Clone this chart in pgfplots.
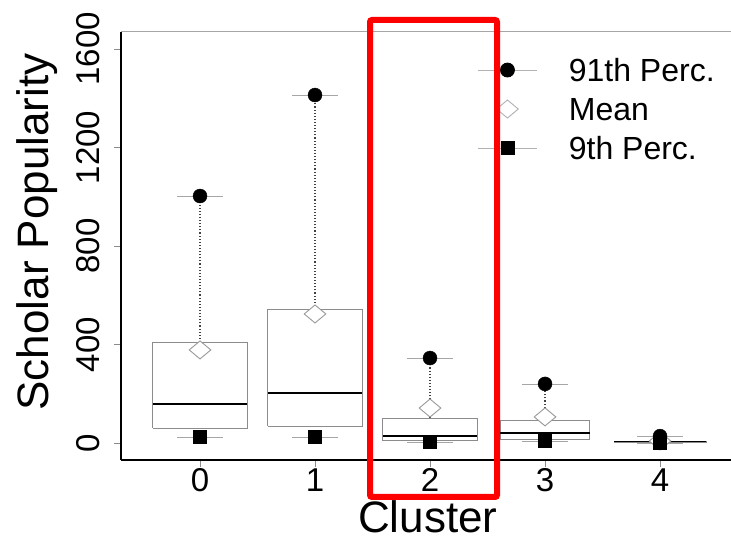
\documentclass[border=0pt]{standalone}
\usepackage{fontspec}
\setmainfont{Liberation Sans}
\usepackage{pgfplots}
\pgfplotsset{compat=1.18}
\pgfplotsset{
  boxst/.style={draw=black!45,line width=0.9pt,fill=white,forget plot},
  medst/.style={black,line width=1.8pt,forget plot},
  whst/.style={black!75,dotted,line width=1.1pt,forget plot},
  capst/.style={black!35,line width=0.8pt,forget plot},
}
\begin{document}
\begin{tikzpicture}
\path[use as bounding box,fill=white] (0pt,0pt) rectangle (731pt,541pt);
\begin{axis}[
  at={(121pt,81pt)}, anchor=south west,
  scale only axis, width=610pt, height=428pt,
  xmin=-0.687, xmax=4.617, ymin=-69, ymax=1669,
  axis x line*=bottom, axis y line*=left,
  axis line style={black,line width=1.2pt,-},
  xtick={0,1,2,3,4}, xticklabels={0,1,2,3,4},
  ytick={0,400,800,1200,1600}, yticklabels={0,400,800,1200,1600},
  tick align=outside, major tick length=7pt,
  tick style={black!45,line width=0.8pt},
  ticklabel style={font=\fontsize{33}{38}\selectfont},
  xticklabel style={anchor=base,yshift=-24pt},
  yticklabel style={xshift=-14pt,rotate=90,anchor=base},
  xlabel={Cluster}, ylabel={Scholar Popularity},
  label style={font=\fontsize{44}{52}\selectfont},
  xlabel style={at={(axis description cs:0.503,-0.133)},anchor=center},
  ylabel style={at={(axis description cs:-0.137,0.533)},anchor=center},
  clip=false,
  legend style={draw=none,fill=none,at={(axis description cs:0.585,0.82)},anchor=west,
    inner sep=0pt,font=\fontsize{32}{38}\selectfont,
    nodes={inner sep=0pt,text height=23pt,text depth=0pt},
    column sep=31pt,row sep=16pt},
  legend cell align=left,
  legend image code/.code={\draw[mark repeat=2,mark phase=2,#1] plot coordinates {(0pt,0pt) (29pt,0pt) (59pt,0pt)};},
]
% top frame line
\draw[black!35,line width=1pt] (rel axis cs:0,1) -- (rel axis cs:1,1);

% whiskers (box top to 91th percentile)
\addplot[whst] coordinates {(0,410) (0,1003)};
\addplot[whst] coordinates {(1,544) (1,1413)};
\addplot[whst] coordinates {(2,101) (2,345)};
\addplot[whst] coordinates {(3,93) (3,240)};
\addplot[whst] coordinates {(4,8) (4,28)};

% boxes (lower quartile, upper quartile)
\addplot[boxst] coordinates {(-0.41,61) (0.41,61) (0.41,410) (-0.41,410) (-0.41,61)};
\addplot[boxst] coordinates {(0.59,69) (1.41,69) (1.41,544) (0.59,544) (0.59,69)};
\addplot[boxst] coordinates {(1.59,10) (2.41,10) (2.41,101) (1.59,101) (1.59,10)};
\addplot[boxst] coordinates {(2.61,16) (3.39,16) (3.39,93) (2.61,93) (2.61,16)};
\addplot[boxst] coordinates {(3.6,4) (4.4,4) (4.4,8) (3.6,8) (3.6,4)};

% medians
\addplot[medst] coordinates {(-0.41,158) (0.41,158)};
\addplot[medst] coordinates {(0.59,203) (1.41,203)};
\addplot[medst] coordinates {(1.59,28) (2.41,28)};
\addplot[medst] coordinates {(2.61,41) (3.39,41)};
\addplot[medst] coordinates {(3.6,6) (4.4,6)};

% short caps through the percentile points
\addplot[capst] coordinates {(-0.2,1003) (0.2,1003)};
\addplot[capst] coordinates {(0.8,1413) (1.2,1413)};
\addplot[capst] coordinates {(1.8,345) (2.2,345)};
\addplot[capst] coordinates {(2.8,240) (3.2,240)};
\addplot[capst] coordinates {(3.8,28) (4.2,28)};
\addplot[capst] coordinates {(-0.2,24) (0.2,24)};
\addplot[capst] coordinates {(0.8,24) (1.2,24)};
\addplot[capst] coordinates {(1.8,4) (2.2,4)};
\addplot[capst] coordinates {(2.8,8) (3.2,8)};
\addplot[capst] coordinates {(3.8,0) (4.2,0)};

% mean
\addplot[forget plot,only marks,mark=diamond*,mark size=9pt,mark options={draw=black!40,fill=white,line width=0.9pt,xscale=1.6}] coordinates {(0,378) (1,524) (2,142) (3,106) (4,8)};
% 91th percentile
\addplot[forget plot,only marks,mark=*,mark size=7pt,black] coordinates {(0,1003) (1,1413) (2,345) (3,240) (4,28)};
% 9th percentile
\addplot[forget plot,only marks,mark=square*,mark size=6.5pt,black] coordinates {(0,24) (1,24) (2,4) (3,8) (4,0)};

\addlegendimage{black!30,line width=0.8pt,mark=*,mark size=7pt,mark options={black,fill=black}}
\addlegendentry{91th Perc.}
\addlegendimage{only marks,mark=diamond*,mark size=9pt,mark options={draw=black!30,fill=white,line width=0.9pt,xscale=1.6}}
\addlegendentry{Mean}
\addlegendimage{black!30,line width=0.8pt,mark=square*,mark size=6.5pt,mark options={black,fill=black}}
\addlegendentry{9th Perc.}
\end{axis}
\draw[red,line width=6pt,rounded corners=2pt] (370pt,521pt) rectangle (497pt,44pt);
\end{tikzpicture}
\end{document}
